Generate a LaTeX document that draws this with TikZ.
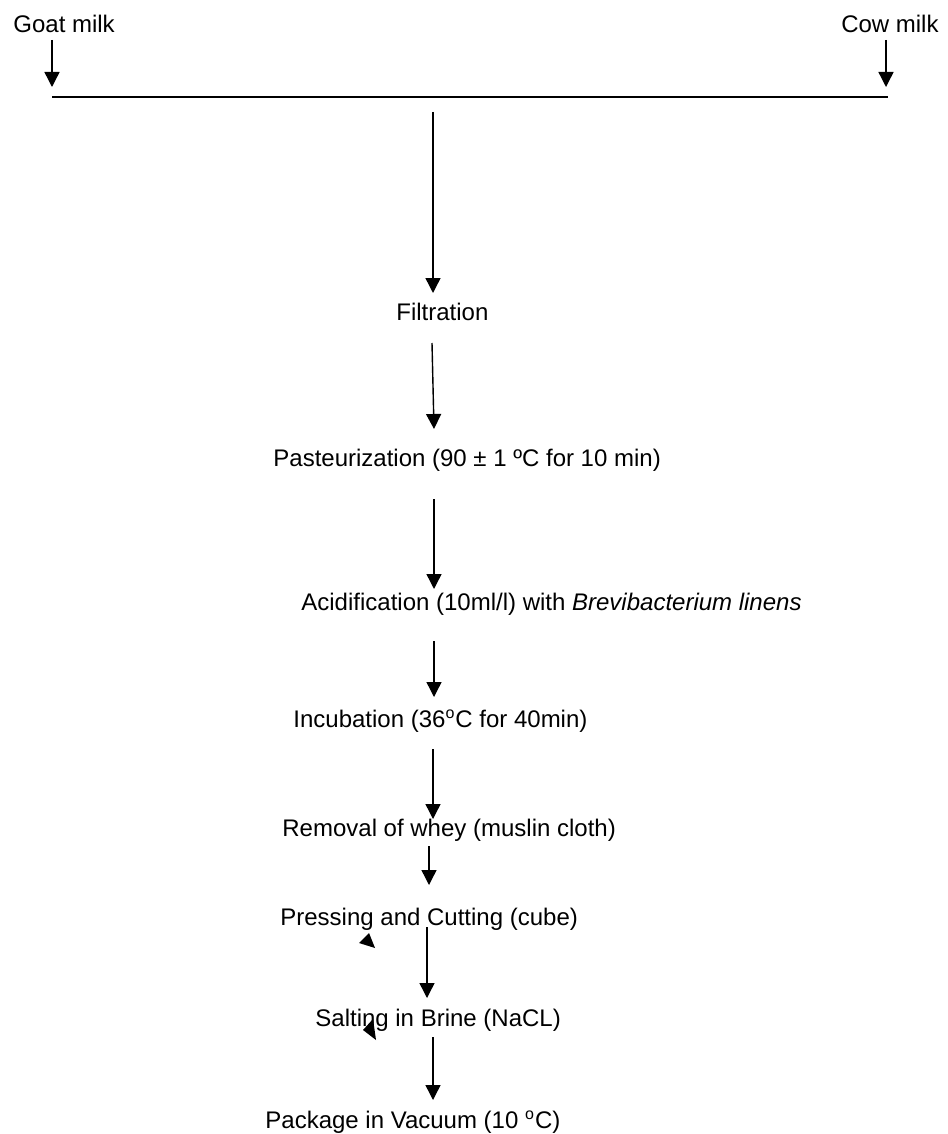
\documentclass[tikz,border=0pt]{standalone}
\usepackage{fontspec}
\setmainfont{Liberation Sans}
\usetikzlibrary{arrows.meta}
\begin{document}
\begin{tikzpicture}[x=0.5pt,y=-0.5pt,
  lbl/.style={inner sep=0pt,anchor=base west,font=\fontsize{12}{14}\selectfont},
  lblr/.style={inner sep=0pt,anchor=base east,font=\fontsize{12}{14}\selectfont},
  flow/.style={line width=0.7pt,-{Triangle[width=7.5pt,length=7.5pt]}},
  bar/.style={line width=0.8pt}]
\useasboundingbox (0,0) rectangle (947,1134);
% texts
\node[lbl]  (goat) at (13,33) {Goat milk};
\node[lblr] (cow)  at (939,33) {Cow milk};
\node[lbl]  (filt) at (396,320) {Filtration};
\node[lbl]  (past) at (273,466) {Pasteurization (90 ± 1 º{}C for 10 min)};
\node[lbl]  (acid) at (301,610) {Acidification (10ml/l) with \textit{Brevibacterium linens}};
\node[lbl]  (incu) at (293,727) {Incubation (36\textsuperscript{o}C for 40min)};
\node[lbl]  (remo) at (282,836) {Removal of whey (muslin cloth)};
\node[lbl]  (pres) at (280,925) {Pressing and Cutting (cube)};
\node[lbl]  (salt) at (315,1026) {Salting in Brine (NaCL)};
\node[lbl]  (pack) at (265,1128) {Package in Vacuum (10 \textsuperscript{o}C)};
% connector end points
\coordinate (g1) at (52,40);   \coordinate (g2) at (52,87);
\coordinate (c1) at (886,40);  \coordinate (c2) at (886,87);
\coordinate (hl) at (52,97);   \coordinate (hr) at (888,97);
\coordinate (a1s) at (433,112); \coordinate (a1e) at (433,293);
\coordinate (a2s) at (432,343); \coordinate (a2e) at (434,429);
\coordinate (a3s) at (434,499); \coordinate (a3e) at (434,589);
\coordinate (a4s) at (434,641); \coordinate (a4e) at (434,697);
\coordinate (a5s) at (433,749); \coordinate (a5e) at (433,819);
\coordinate (a6s) at (429,846); \coordinate (a6e) at (429,885);
\coordinate (a7s) at (427,927); \coordinate (a7e) at (427,998);
\coordinate (a8s) at (433,1037); \coordinate (a8e) at (433,1100);
% connectors
\draw[flow] (g1) -- (g2);
\draw[flow] (c1) -- (c2);
\draw[bar] (hl) -- (hr);
\draw[flow] (a1s) -- (a1e);
\draw[flow] (a2s) -- (a2e);
\draw[flow] (a3s) -- (a3e);
\draw[flow] (a4s) -- (a4e);
\draw[flow] (a5s) -- (a5e);
\draw[flow] (a6s) -- (a6e);
\draw[flow] (a7s) -- (a7e);
\draw[flow] (a8s) -- (a8e);
% stray arrow heads
\fill (369,933) -- (359,943) -- (375,948) -- cycle;
\fill (373,1019) -- (363,1030) -- (376,1040) -- cycle;
\end{tikzpicture}
\end{document}
